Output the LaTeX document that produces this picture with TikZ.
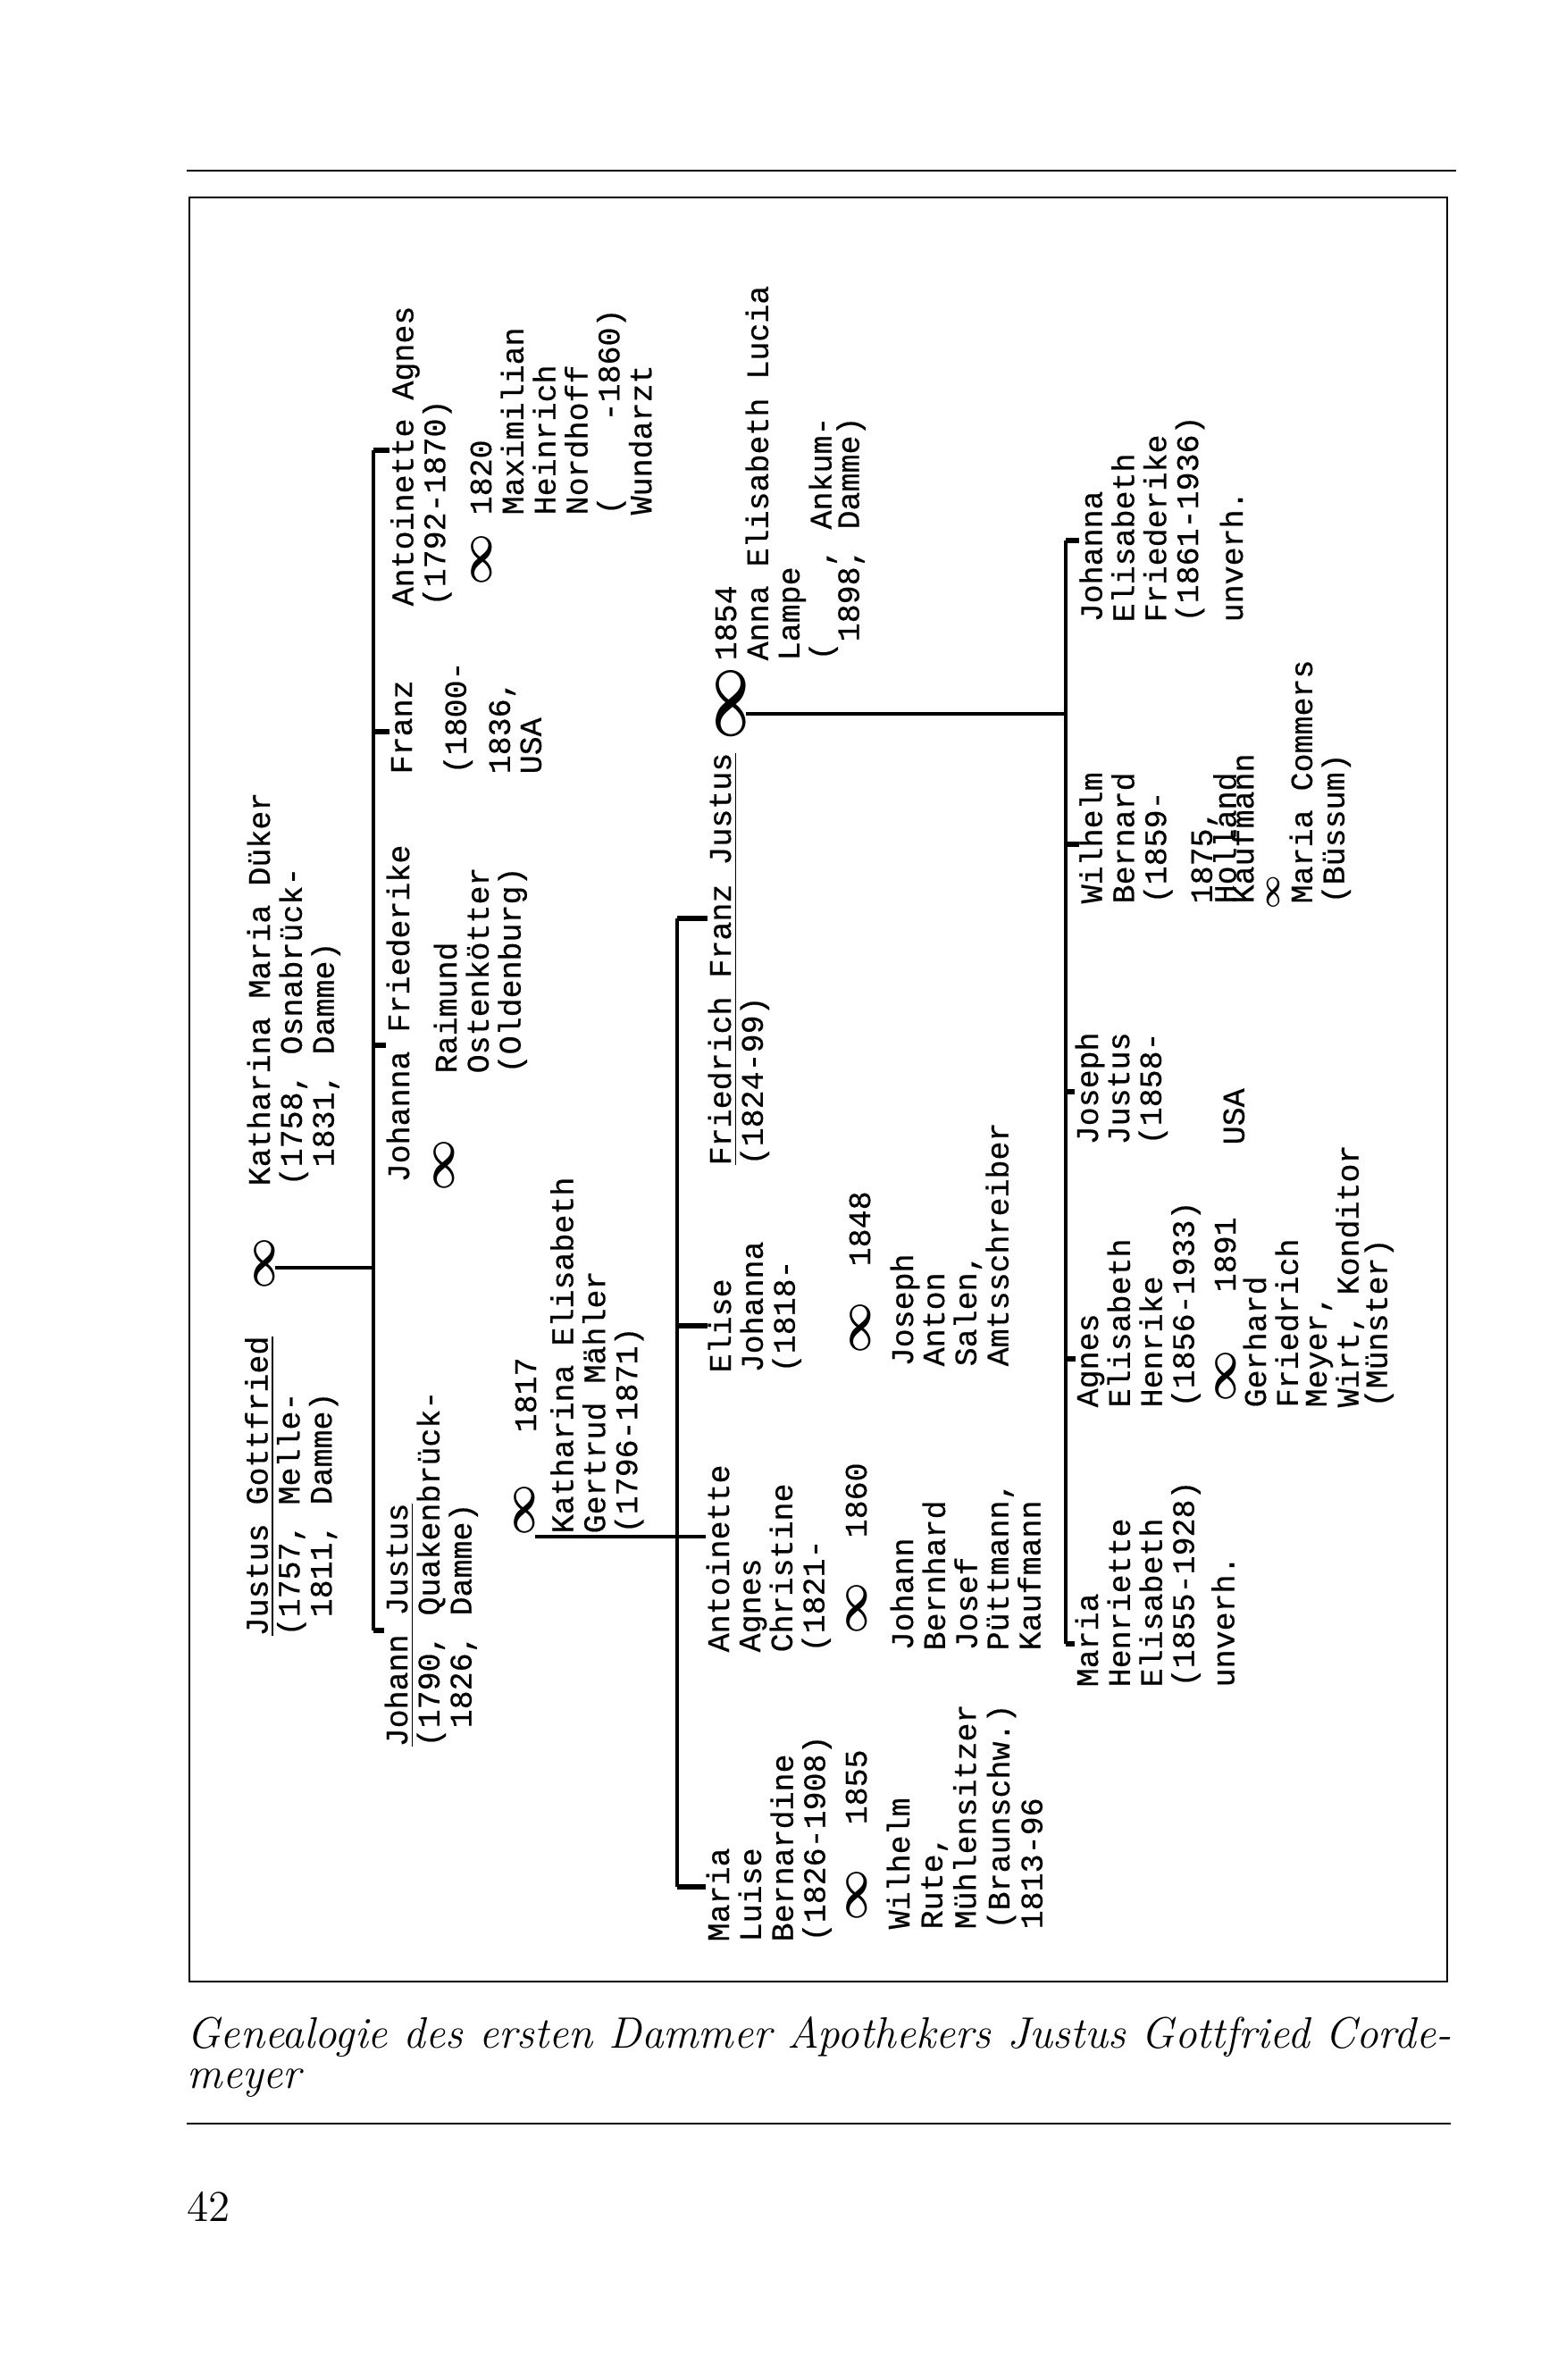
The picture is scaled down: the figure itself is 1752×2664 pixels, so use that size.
\documentclass[tikz,border=0pt]{standalone}
\usepackage{fontspec}
\setmonofont{Liberation Mono}[FakeBold=0.5]
\newcommand{\blk}[1]{\begin{tabular}[t]{@{}l@{}}#1\end{tabular}}
\tikzset{
  person/.style={rotate=90, anchor=base west, inner sep=0pt, font=\fontsize{9.95pt}{9.96pt}\ttfamily\selectfont},
  ehe/.style={rotate=90, inner sep=0pt, font=\fontsize{14pt}{14pt}\selectfont\boldmath},
  bar/.style={line width=1.2pt},
  stub/.style={line width=1.8pt},
  rule/.style={line width=0.7pt}
}
\begin{document}
\begin{tikzpicture}[x=0.1mm, y=-0.1mm]
\useasboundingbox (0,0) rectangle (1752,2664);
\draw[rule] (209,191) -- (1630,191);
\draw[rule] (212,221) rectangle (1620,2218);
\draw[rule] (209,2377) -- (1624,2377);

% erste Generation
\node[person] (jg) at (299.5,1832) {\blk{\underline{Justus Gottfried}\\(1757, Melle-\\~1811, Damme)}};
\node[ehe] (m1) at (296,1414) {$\infty$};
\node[person] (kmd) at (302,1328) {\blk{Katharina Maria Düker\\(1758, Osnabrück-\\~1831, Damme)}};

% zweite Generation
\node[person] (jj) at (456,1956) {\blk{\underline{Johann Justus}\\(1790, Quakenbrück-\\~1826, Damme)}};
\node[ehe] (m4) at (587,1690) {$\infty$};
\node[person] (y1817) at (600,1604) {1817};
\node[person] (ke) at (641.5,1717) {\blk{Katharina Elisabeth\\Gertrud Mähler\\(1796-1871)}};
\node[person] (jf) at (458,1324) {\blk{Johanna Friederike}};
\node[ehe] (m2) at (497.5,1304) {$\infty$};
\node[person] (ro) at (511,1202) {\blk{Raimund\\Ostenkötter\\(Oldenburg)}};
\node[person] (fr) at (461,867) {\blk{Franz\\[7.1pt](1800-\\[4pt]1836,\\USA}};
\node[person] (aa) at (462.5,679) {\blk{Antoinette Agnes\\(1792-1870)}};
\node[ehe] (m3) at (539,626) {$\infty$};
\node[person] (mn) at (550,577) {\blk{1820\\Maximilian\\Heinrich\\Nordhoff\\(~~~~-1860)\\Wundarzt}};

% dritte Generation
\node[person] (mlb) at (816,2174) {\blk{Maria\\Luise\\Bernardine\\(1826-1908)}};
\node[ehe] (m7) at (959,2121) {$\infty$};
\node[person] (y1855) at (970,2043) {1855};
\node[person] (wr) at (1018,2160) {\blk{Wilhelm\\[0.5pt]Rute,\\[0.5pt]Mühlensitzer\\[0.5pt](Braunschw.)\\[0.5pt]1813-96}};
\node[person] (aac) at (816,1850) {\blk{Antoinette\\Agnes\\Christine\\(1821-}};
\node[ehe] (m6) at (959,1800) {$\infty$};
\node[person] (y1860) at (970,1722) {1860};
\node[person] (jbp) at (1022,1848) {\blk{Johann\\Bernhard\\Josef\\Püttmann,\\Kaufmann}};
\node[person] (el) at (818,1537) {\blk{Elise\\Johanna\\(1818-}};
\node[ehe] (m5) at (963.5,1486) {$\infty$};
\node[person] (y1848) at (974,1418) {1848};
\node[person] (jas) at (1022,1530) {\blk{Joseph\\Anton\\Salen,\\Amtsschreiber}};
\node[person] (ffj) at (818,1305) {\blk{\underline{Friedrich Franz Justus}\\(1824-99)}};
\node[ehe, font=\fontsize{20pt}{20pt}\selectfont\boldmath] (m8) at (818,788) {$\infty$};
\node[person] (ael) at (824,740) {\blk{1854\\Anna Elisabeth Lucia\\Lampe\\(~~~~,~Ankum-\\[-1.4pt]~1898,~Damme)}};

% vierte Generation
\node[person] (mhe) at (1229,1889) {\blk{Maria\\Henriette\\Elisabeth\\(1855-1928)\\[2.6pt]unverh.}};
\node[person] (aeh) at (1229,1576) {\blk{Agnes\\Elisabeth\\Henrike\\(1856-1933)}};
\node[ehe] (m9) at (1372,1540) {$\infty$};
\node[person] (y1891) at (1383,1447) {1891};
\node[person] (gfm) at (1417,1576) {\blk{Gerhard\\Friedrich\\[-0.85pt]Meyer,\\Wirt, Konditor\\[-1.1pt](Münster)}};
\node[person] (jjs) at (1229,1282) {\blk{Joseph\\Justus\\(1858-\\[16.5pt]USA}};
\node[person] (wb) at (1233.6,1012) {\blk{Wilhelm\\Bernard\\(1859-\\[4.7pt]1875,\\[-2.6pt]Holland\\[-4.6pt]Kaufmann\\[8.5pt]Maria Commers\\(Büssum)}};
\node[ehe, font=\fontsize{9.5pt}{9.5pt}\selectfont\boldmath] (m10) at (1425,999) {$\infty$};
\node[person] (jef) at (1233.6,697) {\blk{Johanna\\Elisabeth\\Friederike\\(1861-1936)\\[4pt]unverh.}};

% Linien
\coordinate (b2t) at (418,504);
\coordinate (b2b) at (418,1825);
\draw[bar] (b2t) -- (b2b);
\draw[bar] ([yshift=-0.5mm]m1.south) -- ([yshift=-0.5mm]m1.south -| b2t);
\foreach \yy/\nd in {504/aa,819/fr,1170/jf,1825/jj}{
  \coordinate (tk) at (418,\yy);
  \draw[stub] (tk) -- (tk -| \nd.north);
}
\coordinate (b3t) at (758,1028);
\coordinate (b3b) at (758,2112);
\draw[bar] (b3t) -- (b3b);
\draw[bar] (m4.south west) -- (m4.south west -| aac.north);
\foreach \yy/\nd in {1028/ffj,1484/el,2112/mlb}{
  \coordinate (tk) at (758,\yy);
  \draw[stub] (tk) -- (tk -| \nd.north);
}
\coordinate (b4t) at (1193,605);
\coordinate (b4b) at (1193,1840);
\draw[bar] (b4t) -- (b4b);
\draw[bar] ([yshift=-1.1mm]m8.south) -- ([yshift=-1.1mm]m8.south -| b4t);
\foreach \yy/\nd in {605/jef,945/wb,1222/jjs,1521/aeh,1840/mhe}{
  \coordinate (tk) at (1193,\yy);
  \draw[stub] (tk) -- (tk -| \nd.north);
}

\node[anchor=base west, inner sep=0pt, font=\fontsize{14pt}{12.8pt}\itshape\selectfont] (cap) at (209,2292) {\blk{\makebox[141.5mm][s]{Genealogie des ersten Dammer Apothekers Justus Gottfried Corde-}\\meyer}};
\node[anchor=base west, inner sep=0pt, font=\fontsize{14pt}{14pt}\selectfont] (pg) at (209,2486) {42};
\end{tikzpicture}
\end{document}
